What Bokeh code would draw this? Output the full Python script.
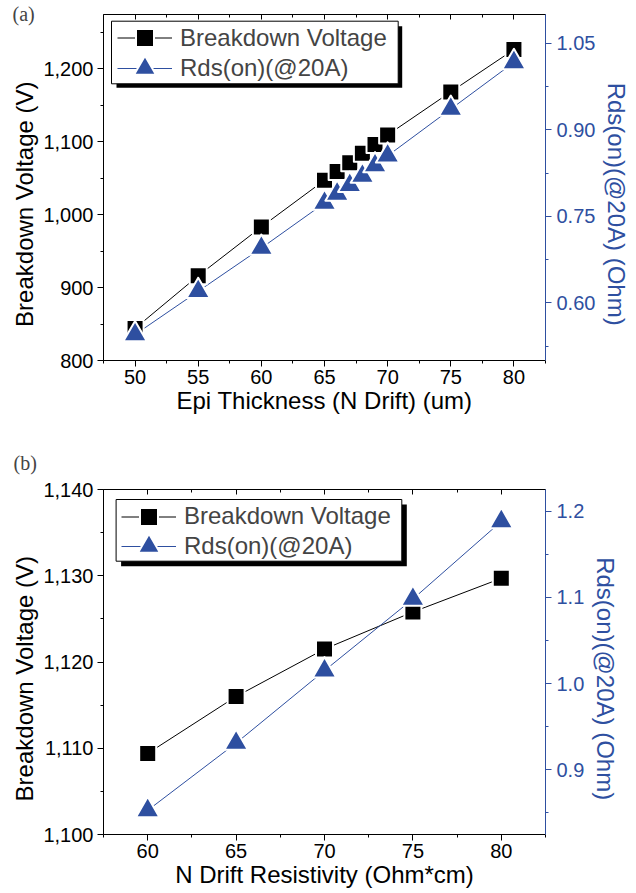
from bokeh.plotting import figure
from bokeh.models import (Range1d, LinearAxis, SingleIntervalTicker, NumeralTickFormatter,
                          Legend, LegendItem, BoxAnnotation)
from bokeh.layouts import column
from bokeh.embed import file_html
from bokeh.resources import INLINE

# ---------------- data ----------------
# (a) versus epi thickness
epi_thickness = [50, 55, 60, 65, 66, 67, 68, 69, 70, 75, 80]
bv_epi = [844, 916, 983, 1047, 1059, 1071, 1084, 1096, 1109, 1168, 1226]
rds_epi = [0.545, 0.620, 0.695, 0.773, 0.789, 0.804, 0.820, 0.838, 0.855, 0.936, 1.017]

# (b) versus N drift resistivity
drift_res = [60, 65, 70, 75, 80]
bv_res = [1109.4, 1116.0, 1121.5, 1125.8, 1129.7]
rds_res = [0.853, 0.931, 1.015, 1.098, 1.188]

label_bv = "Breakdown Voltage"
label_rds = "Rds(on)(@20A)"
xtitle_a = "Epi Thickness (N Drift) (um)"
xtitle_b = "N Drift Resistivity (Ohm*cm)"
ytitle_left = "Breakdown Voltage (V)"
ytitle_right = "Rds(on)(@20A) (Ohm)"

FONT = "Liberation Sans"
SERIF = "Liberation Serif"
BLUE = "#2E4FA0"
NB = "\u00a0" * 5


def style_axis(ax, color, standoff=4):
    ax.axis_line_color = color
    ax.axis_line_width = 1
    ax.major_tick_line_color = color
    ax.minor_tick_line_color = color
    ax.major_tick_out = 6
    ax.major_tick_in = 0
    ax.minor_tick_out = 3
    ax.minor_tick_in = 0
    ax.major_label_text_color = color
    ax.major_label_text_font = FONT
    ax.major_label_text_font_size = "20px"
    ax.major_label_standoff = standoff
    ax.axis_label_text_font = FONT
    ax.axis_label_text_font_size = "24px"
    ax.axis_label_text_font_style = "normal"
    ax.axis_label_text_color = color


def build(tag, xs, bv, rds, xr, yr, y2r, xint, yint, y2int, y2fmt, xtitle,
          width, height, bl, br, bt, bb, tag_std, tag_off,
          box, shadow, leg_x, leg_y1, leg_y2):
    p = figure(width=width, height=height, output_backend="svg", toolbar_location=None,
               x_range=Range1d(*xr), y_range=Range1d(*yr),
               min_border_left=bl, min_border_right=br, min_border_top=bt,
               min_border_bottom=bb)
    p.outline_line_color = None
    p.xgrid.visible = False
    p.ygrid.visible = False
    p.background_fill_color = "white"
    p.border_fill_color = "white"
    p.extra_y_ranges = {"rds": Range1d(*y2r)}

    p.title.text = tag
    p.title.align = "left"
    p.title.offset = tag_off
    p.title.standoff = tag_std
    p.title.text_font = SERIF
    p.title.text_font_size = "20px"
    p.title.text_font_style = "normal"

    xa = p.xaxis[0]
    xa.ticker = SingleIntervalTicker(interval=xint, num_minor_ticks=2)
    style_axis(xa, "black", standoff=3)
    xa.axis_label = xtitle
    xa.axis_label_standoff = 0

    ya = p.yaxis[0]
    ya.ticker = SingleIntervalTicker(interval=yint, num_minor_ticks=2)
    ya.formatter = NumeralTickFormatter(format="0,0")
    style_axis(ya, "black", standoff=4)
    ya.axis_label = ytitle_left + NB
    ya.axis_label_standoff = 2

    top = LinearAxis(ticker=SingleIntervalTicker(interval=xint, num_minor_ticks=2))
    top.axis_line_color = "black"
    top.major_tick_line_color = "black"
    top.minor_tick_line_color = "black"
    top.major_tick_in = 5
    top.major_tick_out = 0
    top.minor_tick_in = 3
    top.minor_tick_out = 0
    top.major_label_text_color = None
    top.major_label_text_font_size = "1px"
    top.major_label_standoff = 0
    p.add_layout(top, "above")

    ra = LinearAxis(y_range_name="rds",
                    ticker=SingleIntervalTicker(interval=y2int, num_minor_ticks=2),
                    formatter=NumeralTickFormatter(format=y2fmt))
    style_axis(ra, BLUE, standoff=5)
    ra.axis_label = NB + ytitle_right
    ra.axis_label_standoff = 5
    p.add_layout(ra, "right")

    l1 = p.line(xs, bv, line_color="black", line_width=1)
    l2 = p.line(xs, rds, line_color=BLUE, line_width=1, y_range_name="rds")
    s1 = p.scatter(xs, bv, marker="square", size=17, fill_color="black",
                   line_color="white", line_width=2, line_join="round")
    s2 = p.scatter(xs, rds, marker="triangle", size=23.5, fill_color=BLUE,
                   line_color="white", line_width=2, line_join="round",
                   y_range_name="rds")

    # legend frame and its shadow (screen units, relative to the plot frame)
    def sbox(b, **kw):
        return BoxAnnotation(left=b[0], right=b[1], bottom=b[2], top=b[3],
                             left_units="screen", right_units="screen",
                             top_units="screen", bottom_units="screen", **kw)
    p.add_layout(sbox(shadow, fill_color="black", fill_alpha=1, line_color=None))
    p.add_layout(sbox(box, fill_color="white", fill_alpha=1, line_color="black",
                      line_width=1, line_alpha=1))

    for item, ly, gh in ((LegendItem(label=label_bv, renderers=[l1, s1]), leg_y1, 45),
                         (LegendItem(label=label_rds, renderers=[l2, s2]), leg_y2, 60)):
        leg = Legend(items=[item], location=(leg_x, ly), glyph_width=55, glyph_height=gh,
                     label_standoff=8, padding=0, spacing=0, margin=0,
                     label_text_font=FONT, label_text_font_size="24px",
                     border_line_color=None, background_fill_alpha=0)
        p.add_layout(leg, "center")
    return p


p1 = build("(a)", epi_thickness, bv_epi, rds_epi, (47.5, 82.5), (800, 1274), (0.5, 1.1),
           5, 100, 0.15, "0.00", xtitle_a, 636, 430, 103, 91, 14, 70, -20, -91,
           (8, 294.7, 276.7, 339.3), (13, 298.7, 272.7, 334.3), 14, 300, 262.3)
p2 = build("(b)", drift_res, bv_res, rds_res, (57.5, 82.5), (1100, 1140), (0.825, 1.225),
           5, 10, 0.1, "0.0", xtitle_b, 636, 463, 102, 82, 59, 59, 32, -90,
           (12.6, 298.3, 273.3, 335), (17.6, 303.3, 268.3, 330), 18, 295.5, 258)

layout = column(p1, p2, spacing=0)
open("out.html", "w").write(file_html(layout, INLINE))
